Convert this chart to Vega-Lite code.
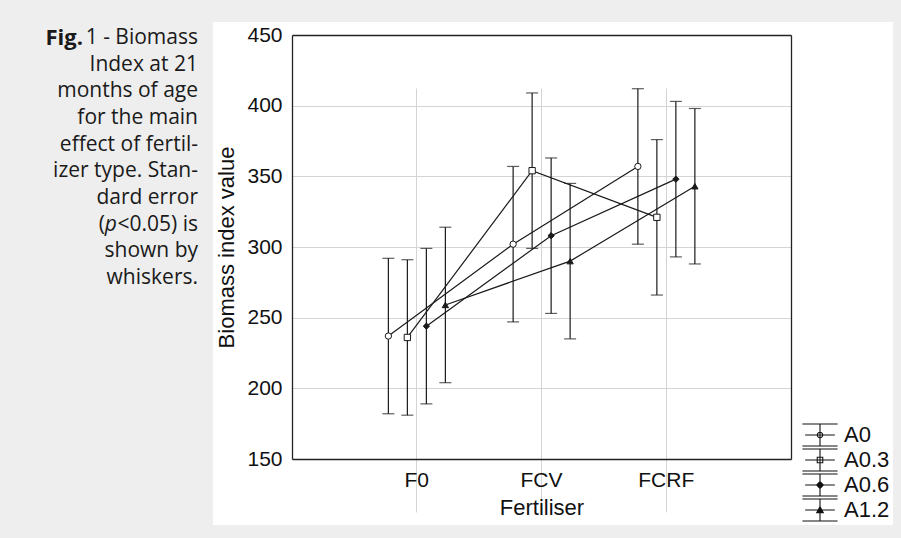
{
  "$schema": "https://vega.github.io/schema/vega-lite/v6.json",
  "background": "#eeeeee",
  "padding": {"left": 0, "top": 22, "right": 8, "bottom": 13},
  "spacing": 15,
  "resolve": {"legend": {"shape": "independent"}},
  "config": {"view": {"stroke": null}, "font": "Liberation Sans"},
  "datasets": {
    "caption": [
      {"line": 1, "part": "normal", "text": "1 - Biomass"},
      {"line": 1, "part": "bold", "text": "Fig."},
      {"line": 2, "part": "normal", "text": "Index at 21"},
      {"line": 3, "part": "normal", "text": "months of age"},
      {"line": 4, "part": "normal", "text": "for the main"},
      {"line": 5, "part": "normal", "text": "effect of fertil-"},
      {"line": 6, "part": "normal", "text": "izer type. Stan-"},
      {"line": 7, "part": "normal", "text": "dard error"},
      {"line": 8, "part": "normal", "text": "<0.05) is"},
      {"line": 8, "part": "italic", "text": "p"},
      {"line": 8, "part": "paren", "text": "("},
      {"line": 9, "part": "normal", "text": "shown by"},
      {"line": 10, "part": "normal", "text": "whiskers."}
    ],
    "bio": [
      {"Fertiliser": "F0", "Series": "A0", "mean": 237, "lower": 182, "upper": 292},
      {"Fertiliser": "F0", "Series": "A0.3", "mean": 236, "lower": 181, "upper": 291},
      {"Fertiliser": "F0", "Series": "A0.6", "mean": 244, "lower": 189, "upper": 299},
      {"Fertiliser": "F0", "Series": "A1.2", "mean": 259, "lower": 204, "upper": 314},
      {"Fertiliser": "FCV", "Series": "A0", "mean": 302, "lower": 247, "upper": 357},
      {"Fertiliser": "FCV", "Series": "A0.3", "mean": 354, "lower": 299, "upper": 409},
      {"Fertiliser": "FCV", "Series": "A0.6", "mean": 308, "lower": 253, "upper": 363},
      {"Fertiliser": "FCV", "Series": "A1.2", "mean": 290, "lower": 235, "upper": 345},
      {"Fertiliser": "FCRF", "Series": "A0", "mean": 357, "lower": 302, "upper": 412},
      {"Fertiliser": "FCRF", "Series": "A0.3", "mean": 321, "lower": 266, "upper": 376},
      {"Fertiliser": "FCRF", "Series": "A0.6", "mean": 348, "lower": 293, "upper": 403},
      {"Fertiliser": "FCRF", "Series": "A1.2", "mean": 343, "lower": 288, "upper": 398}
    ]
  },
  "hconcat": [
    {
      "width": 198,
      "height": 503,
      "data": {"name": "caption"},
      "view": {"fill": null, "stroke": null},
      "encoding": {
        "y": {"field": "line", "type": "quantitative", "scale": {"domain": [0.4, 19.26], "range": [0, 503], "nice": false, "zero": false}, "axis": null},
        "x": {"value": "width"},
        "text": {"field": "text", "type": "nominal"}
      },
      "layer": [
        {"transform": [{"filter": "datum.part == 'normal'"}], "mark": {"type": "text", "align": "right", "baseline": "middle", "font": "Open Sans", "fontSize": 21, "color": "#1a1a1a"}},
        {"transform": [{"filter": "datum.part == 'bold'"}], "mark": {"type": "text", "align": "right", "baseline": "middle", "font": "Open Sans", "fontSize": 22, "fontWeight": "bold", "color": "#1a1a1a", "dx": -115}},
        {"transform": [{"filter": "datum.part == 'italic'"}], "mark": {"type": "text", "align": "right", "baseline": "middle", "font": "Open Sans", "fontSize": 21, "fontStyle": "italic", "color": "#1a1a1a", "dx": -81}},
        {"transform": [{"filter": "datum.part == 'paren'"}], "mark": {"type": "text", "align": "right", "baseline": "middle", "font": "Open Sans", "fontSize": 21, "color": "#1a1a1a", "dx": -93}}
      ]
    },
    {
      "width": 680,
      "height": 503,
      "data": {"name": "bio"},
      "view": {"fill": "white", "stroke": null},
      "layer": [
        {
          "mark": {"type": "rule", "color": "#1a1a1a", "strokeWidth": 1.2},
          "encoding": {
            "x": {"field": "Fertiliser", "type": "nominal", "sort": ["F0", "FCV", "FCRF"],
              "scale": {"type": "band", "range": [79, 578], "paddingInner": 0, "paddingOuter": 0.5},
              "title": "Fertiliser",
              "axis": {"orient": "bottom", "offset": -66, "ticks": false, "labelPadding": 10, "labelAngle": 0, "labelFont": "Liberation Sans", "labelFontSize": 21, "labelColor": "#111", "titleFont": "Liberation Sans", "titleFontSize": 22, "titleFontWeight": "normal", "titleColor": "#111", "titlePadding": 7, "domainColor": "#222", "domainWidth": 1.3, "grid": true, "gridColor": "#d4d4d4", "gridWidth": 1, "bandPosition": 0.5}},
            "xOffset": {"field": "Series", "type": "nominal", "sort": ["A0", "A0.3", "A0.6", "A1.2"], "scale": {"type": "point", "range": [34, 91], "padding": 0}},
            "y": {"field": "lower", "type": "quantitative",
              "scale": {"domain": [150, 450], "range": [437, 13], "nice": false, "zero": false},
              "title": "Biomass index value",
              "axis": {"orient": "left", "offset": -79, "values": [150, 200, 250, 300, 350, 400, 450], "ticks": false, "labelPadding": 10, "labelOverlap": false, "labelFont": "Liberation Sans", "labelFontSize": 21, "labelColor": "#111", "titleFont": "Liberation Sans", "titleFontSize": 22, "titleFontWeight": "normal", "titleColor": "#111", "titlePadding": 8, "domainColor": "#222", "domainWidth": 1.3, "grid": true, "gridColor": "#d4d4d4", "gridWidth": 1}},
            "y2": {"field": "upper"}
          }
        },
        {
          "mark": {"type": "line", "color": "#1a1a1a", "strokeWidth": 1.2},
          "encoding": {
            "x": {"field": "Fertiliser", "type": "nominal", "sort": ["F0", "FCV", "FCRF"],
              "axis": {"orient": "top", "offset": -13, "labels": false, "ticks": false, "grid": false, "title": null, "domainColor": "#222", "domainWidth": 1.3}},
            "xOffset": {"field": "Series", "type": "nominal", "sort": ["A0", "A0.3", "A0.6", "A1.2"]},
            "y": {"field": "mean", "type": "quantitative",
              "axis": {"orient": "right", "offset": -102, "labels": false, "ticks": false, "grid": false, "title": null, "domainColor": "#222", "domainWidth": 1.3}},
            "detail": {"field": "Series", "type": "nominal"}
          }
        },
        {
          "mark": {"type": "tick", "color": "#1a1a1a", "size": 12, "thickness": 1.2},
          "encoding": {
            "x": {"field": "Fertiliser", "type": "nominal", "sort": ["F0", "FCV", "FCRF"], "axis": null},
            "xOffset": {"field": "Series", "type": "nominal", "sort": ["A0", "A0.3", "A0.6", "A1.2"]},
            "y": {"field": "lower", "type": "quantitative", "axis": null}
          }
        },
        {
          "mark": {"type": "tick", "color": "#1a1a1a", "size": 12, "thickness": 1.2},
          "encoding": {
            "x": {"field": "Fertiliser", "type": "nominal", "sort": ["F0", "FCV", "FCRF"], "axis": null},
            "xOffset": {"field": "Series", "type": "nominal", "sort": ["A0", "A0.3", "A0.6", "A1.2"]},
            "y": {"field": "upper", "type": "quantitative", "axis": null}
          }
        },
        {
          "mark": {"type": "point", "filled": true, "size": 40, "stroke": "#1a1a1a", "strokeWidth": 1, "opacity": 1},
          "encoding": {
            "x": {"field": "Fertiliser", "type": "nominal", "sort": ["F0", "FCV", "FCRF"], "axis": null},
            "xOffset": {"field": "Series", "type": "nominal", "sort": ["A0", "A0.3", "A0.6", "A1.2"]},
            "y": {"field": "mean", "type": "quantitative", "axis": null},
            "shape": {"field": "Series", "type": "nominal",
              "scale": {"domain": ["A0", "A0.3", "A0.6", "A1.2"], "range": ["circle", "square", "diamond", "triangle-up"]},
              "legend": null},
            "fill": {"field": "Series", "type": "nominal",
              "scale": {"domain": ["A0", "A0.3", "A0.6", "A1.2"], "range": ["white", "white", "#1a1a1a", "#1a1a1a"]},
              "legend": null}
          }
        },
        {
          "mark": {"type": "point", "filled": true, "color": "#111", "size": 0, "strokeWidth": 0, "opacity": 1},
          "encoding": {
            "x": {"field": "Fertiliser", "type": "nominal", "sort": ["F0", "FCV", "FCRF"], "axis": null},
            "xOffset": {"field": "Series", "type": "nominal", "sort": ["A0", "A0.3", "A0.6", "A1.2"]},
            "y": {"field": "mean", "type": "quantitative", "axis": null},
            "shape": {"field": "Series", "type": "nominal",
              "scale": {"domain": ["A0", "A0.3", "A0.6", "A1.2"], "range": [
                "M-1.6,-1.05H1.6V-0.95H-1.6ZM-1.6,0.95H1.6V1.05H-1.6ZM-0.05,-1H0.05V1H-0.05ZM-1.35,-0.05H1.35V0.05H-1.35ZM0.3,0A0.3,0.3,0,1,1,-0.3,0A0.3,0.3,0,1,1,0.3,0ZM0.2,0A0.2,0.2,0,1,0,-0.2,0A0.2,0.2,0,1,0,0.2,0Z",
                "M-1.6,-1.05H1.6V-0.95H-1.6ZM-1.6,0.95H1.6V1.05H-1.6ZM-0.05,-1H0.05V1H-0.05ZM-1.35,-0.05H1.35V0.05H-1.35ZM-0.3,-0.3H0.3V0.3H-0.3ZM-0.2,-0.2V0.2H0.2V-0.2Z",
                "M-1.6,-1.05H1.6V-0.95H-1.6ZM-1.6,0.95H1.6V1.05H-1.6ZM-0.05,-1H0.05V1H-0.05ZM-1.35,-0.05H1.35V0.05H-1.35ZM0,-0.38L0.38,0L0,0.38L-0.38,0Z",
                "M-1.6,-1.05H1.6V-0.95H-1.6ZM-1.6,0.95H1.6V1.05H-1.6ZM-0.05,-1H0.05V1H-0.05ZM-1.35,-0.05H1.35V0.05H-1.35ZM0,-0.42L0.38,0.3L-0.38,0.3Z"
              ]},
              "legend": {"orient": "bottom-right", "offset": 3, "padding": 0, "title": null, "symbolSize": 484, "symbolStrokeWidth": 0, "symbolFillColor": "#111", "symbolOpacity": 1, "labelFont": "Liberation Sans", "labelFontSize": 22, "labelColor": "#111", "labelOffset": 13, "rowPadding": 1}}
          }
        }
      ],
      "resolve": {"axis": {"x": "independent", "y": "independent"}, "scale": {"shape": "independent"}}
    }
  ]
}
